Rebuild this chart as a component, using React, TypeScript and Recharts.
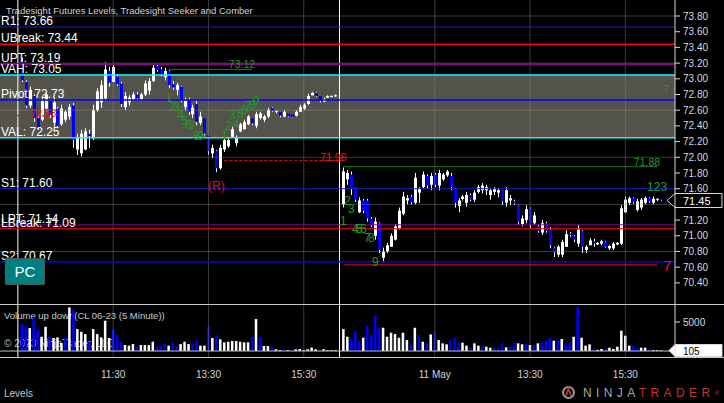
import React from "react";
import {
  Bar,
  ComposedChart,
  ReferenceArea,
  ReferenceDot,
  ReferenceLine,
  XAxis,
  YAxis,
} from "recharts";

const FONT = "'Liberation Sans', Arial, sans-serif";

// CL 06-23, 5 minute bars [open, high, low, close], 10 May 09:35 - 16:10
const day1Bars: [number, number, number, number][] = [
  [73.22, 73.27, 72.96, 72.98], [72.96, 72.98, 72.63, 72.66], [72.66, 72.9, 72.63, 72.86], [72.78, 72.8, 72.45, 72.5],
  [72.5, 72.54, 72.35, 72.38], [72.48, 72.76, 72.46, 72.72], [72.62, 72.83, 72.58, 72.8], [72.72, 72.73, 72.5, 72.54],
  [72.44, 72.76, 72.39, 72.7], [72.62, 72.64, 72.37, 72.4], [72.42, 72.67, 72.4, 72.62], [72.48, 72.6, 72.45, 72.58],
  [72.52, 72.68, 72.48, 72.64], [72.66, 72.69, 72.12, 72.22], [72.1, 72.3, 72.03, 72.25], [72.05, 72.35, 72.01, 72.3],
  [72.1, 72.37, 72.09, 72.33], [72.3, 72.35, 72.12, 72.27], [72.24, 72.67, 72.22, 72.6], [72.6, 72.88, 72.58, 72.84],
  [72.7, 72.98, 72.63, 72.92], [72.75, 73.21, 72.73, 73.12], [73.1, 73.15, 72.9, 72.95], [72.96, 73.2, 72.96, 73.15],
  [73.03, 73.06, 72.91, 72.93], [72.94, 72.96, 72.64, 72.68], [72.64, 72.83, 72.6, 72.78], [72.7, 72.79, 72.66, 72.76],
  [72.74, 72.83, 72.72, 72.8], [72.8, 72.83, 72.73, 72.75], [72.74, 72.82, 72.72, 72.8], [72.8, 72.98, 72.78, 72.94],
  [72.85, 73.01, 72.8, 72.97], [72.97, 73.18, 72.96, 73.14], [73.16, 73.2, 73.09, 73.11], [73.12, 73.15, 73.03, 73.05],
  [73.02, 73.14, 72.98, 73.1], [73.1, 73.11, 72.88, 72.92], [72.93, 72.97, 72.86, 72.89], [72.86, 72.95, 72.79, 72.92],
  [72.9, 72.91, 72.7, 72.72], [72.64, 72.76, 72.6, 72.72], [72.74, 72.76, 72.54, 72.58], [72.55, 72.67, 72.5, 72.63],
  [72.68, 72.73, 72.41, 72.45], [72.44, 72.58, 72.41, 72.52], [72.5, 72.5, 72.28, 72.3], [72.28, 72.28, 72.03, 72.08],
  [72.05, 72.16, 71.99, 72.12], [72.08, 72.09, 71.81, 71.86], [71.86, 72.16, 71.84, 72.12], [72.1, 72.25, 72.07, 72.22],
  [72.14, 72.25, 72.12, 72.22], [72.26, 72.39, 72.25, 72.36], [72.18, 72.28, 72.14, 72.26], [72.33, 72.44, 72.32, 72.42],
  [72.36, 72.48, 72.35, 72.45], [72.42, 72.54, 72.41, 72.52], [72.5, 72.5, 72.41, 72.43], [72.4, 72.58, 72.37, 72.55],
  [72.5, 72.58, 72.48, 72.56], [72.48, 72.54, 72.45, 72.52], [72.52, 72.63, 72.5, 72.6], [72.63, 72.64, 72.58, 72.59],
  [72.58, 72.6, 72.56, 72.59], [72.58, 72.58, 72.51, 72.53], [72.52, 72.6, 72.51, 72.58], [72.56, 72.56, 72.51, 72.52],
  [72.55, 72.55, 72.5, 72.51], [72.53, 72.6, 72.52, 72.58], [72.58, 72.67, 72.58, 72.64], [72.62, 72.69, 72.6, 72.67],
  [72.68, 72.81, 72.67, 72.78], [72.79, 72.83, 72.79, 72.82], [72.82, 72.83, 72.77, 72.78], [72.78, 72.78, 72.7, 72.72],
  [72.71, 72.76, 72.7, 72.74], [72.76, 72.79, 72.76, 72.78], [72.78, 72.79, 72.77, 72.78], [72.78, 72.8, 72.77, 72.79],
];

// 11 May 09:35 - 16:15
const day2Bars: [number, number, number, number][] = [
  [71.4, 71.87, 71.36, 71.82], [71.72, 71.84, 71.65, 71.8], [71.78, 71.82, 71.52, 71.6], [71.62, 71.62, 71.43, 71.46],
  [71.3, 71.49, 71.29, 71.45], [71.45, 71.47, 71.29, 71.32], [71.45, 71.47, 71.18, 71.22], [71.22, 71.24, 71.11, 71.13],
  [71.0, 71.23, 70.95, 71.18], [71.16, 71.17, 70.78, 70.82], [70.72, 70.85, 70.66, 70.8], [70.8, 70.91, 70.78, 70.88],
  [70.86, 71.03, 70.86, 71.0], [70.95, 71.15, 70.94, 71.12], [71.1, 71.36, 71.08, 71.32], [71.28, 71.56, 71.26, 71.5],
  [71.45, 71.52, 71.4, 71.48], [71.5, 71.52, 71.4, 71.43], [71.42, 71.8, 71.4, 71.74], [71.55, 71.62, 71.42, 71.6],
  [71.62, 71.82, 71.6, 71.78], [71.76, 71.78, 71.6, 71.64], [71.65, 71.8, 71.58, 71.76], [71.78, 71.8, 71.62, 71.65],
  [71.64, 71.84, 71.58, 71.8], [71.72, 71.8, 71.7, 71.78], [71.77, 71.84, 71.75, 71.82], [71.76, 71.8, 71.58, 71.62],
  [71.6, 71.6, 71.36, 71.42], [71.38, 71.48, 71.3, 71.45], [71.47, 71.52, 71.45, 71.5], [71.42, 71.56, 71.37, 71.52],
  [71.52, 71.54, 71.44, 71.46], [71.46, 71.58, 71.43, 71.55], [71.56, 71.65, 71.54, 71.62], [71.58, 71.67, 71.54, 71.64],
  [71.58, 71.65, 71.52, 71.62], [71.52, 71.61, 71.46, 71.58], [71.56, 71.62, 71.52, 71.6], [71.55, 71.61, 71.49, 71.58],
  [71.58, 71.58, 71.39, 71.44], [71.42, 71.62, 71.37, 71.58], [71.45, 71.52, 71.39, 71.48], [71.44, 71.46, 71.39, 71.41],
  [71.39, 71.4, 71.14, 71.18], [71.15, 71.26, 71.12, 71.22], [71.2, 71.39, 71.16, 71.34], [71.35, 71.36, 71.1, 71.14],
  [71.16, 71.3, 71.14, 71.26], [71.12, 71.14, 71.04, 71.06], [71.04, 71.2, 71.01, 71.16], [71.16, 71.18, 71.04, 71.06],
  [71.08, 71.11, 70.84, 70.88], [70.85, 70.86, 70.73, 70.79], [70.76, 70.88, 70.73, 70.86], [70.76, 70.95, 70.73, 70.92],
  [70.86, 71.07, 70.86, 71.02], [71.03, 71.05, 70.99, 71.01], [71.0, 71.01, 70.92, 70.95], [70.9, 71.14, 70.86, 71.08],
  [71.06, 71.07, 70.78, 70.86], [70.82, 70.88, 70.78, 70.86], [70.88, 70.97, 70.88, 70.94], [70.93, 70.96, 70.86, 70.9],
  [70.89, 70.92, 70.88, 70.91], [70.9, 70.95, 70.88, 70.93], [70.92, 70.93, 70.85, 70.86], [70.84, 70.88, 70.82, 70.87],
  [70.84, 70.92, 70.82, 70.9], [70.89, 70.92, 70.88, 70.91], [70.9, 71.39, 70.88, 71.35], [71.3, 71.5, 71.29, 71.46],
  [71.42, 71.5, 71.39, 71.48], [71.48, 71.49, 71.41, 71.43], [71.33, 71.47, 71.31, 71.44], [71.36, 71.48, 71.33, 71.46],
  [71.42, 71.5, 71.4, 71.48], [71.48, 71.49, 71.42, 71.44], [71.42, 71.5, 71.4, 71.47], [71.46, 71.48, 71.44, 71.47],
  [71.47, 71.47, 71.44, 71.45],
];

const day1Volume = [
  4640, 4180, 3950, 5670, 3610, 2460, 4180, 2460, 2240, 2350, 1380, 2240, 7510, 7050, 3780, 3320,
  2920, 1600, 3780, 2920, 2350, 5220, 2240, 3780, 2750, 1600, 1030, 920, 1200, 740, 1030, 1030,
  1030, 1600, 920, 920, 1200, 920, 1490, 920, 1200, 1600, 1200, 1200, 1890, 920, 920, 4180,
  2240, 2750, 2010, 1490, 1600, 1720, 1720, 1600, 1490, 1490, 2460, 5500, 2290, 860, 860, 630,
  300, 150, 150, 150, 150, 300, 350, 150, 300, 600, 300, 150, 300, 150, 150, 150,
];
const day2Volume = [
  3780, 2460, 2060, 3440, 1770, 2290, 4350, 2750, 6070, 4010, 4010, 2460, 3150, 2920, 2290, 3150,
  1890, 1320, 4010, 2750, 1600, 1430, 2860, 3440, 1890, 1320, 1150, 1890, 2290, 1430, 1430, 920,
  570, 1320, 920, 920, 740, 570, 570, 570, 1320, 630, 740, 1430, 1320, 1150, 1320, 1030,
  1030, 1320, 1430, 1770, 2290, 1770, 1770, 2060, 1150, 1430, 2460, 7510, 2290, 920, 1150, 300,
  200, 350, 350, 570, 350, 740, 3500, 2640, 920, 920, 570, 570, 570, 300, 150, 150, 105,
];
// B = down volume (blue), W = up volume (white)
const day1VolumeSide = "BBWBBWWBWWWBWBWWWBWWWWWBBBWWWBWWWWBBBWBBWWWBBWWBWBWWWWWWWWBWBWWBWWBWBWWWWWWBWWW";
const day2VolumeSide = "WWBBBWBBBBWWWWWWWBWBWBWBWWWBBBWWBWWBWWBBBWBBWWBWBWBBBWBWBBWBWWWBWWBWWWWWWBBWWBWWW";

const levelNames = ["R1", "UBreak", "UPT", "VAH", "Pivot", "VAL", "S1", "LPT", "LBreak", "S2"];
const levelValues = [73.66, 73.44, 73.19, 73.05, 72.73, 72.25, 71.6, 71.14, 71.09, 70.67];

const priceTicks = [73.8, 73.6, 73.4, 73.2, 73.0, 72.8, 72.6, 72.4, 72.2, 72.0, 71.8, 71.6, 71.2, 71.0, 70.8, 70.6, 70.4];
const priceGrid = [73.8, 73.2, 72.6, 72.0, 71.4, 70.8];
const volumeTicks = [5000];

const timeTickDays = [1, 1, 1, 2, 2, 2];
const timeTickTimes = ["11:30", "13:30", "15:30", "11:30", "13:30", "15:30"];
const timeTickLabels = ["11:30", "13:30", "15:30", "11 May", "13:30", "15:30"];

// Seeker / Comber counts: [day, bar, price, text]
const countMarks: [number, number, number, string][] = [
  [1, 38, 72.76, "1"], [1, 39, 72.65, "2"], [1, 40, 72.64, "3"], [1, 41, 72.545, "4"], [1, 42, 72.46, "5"],
  [1, 43, 72.41, "6"], [1, 44, 72.4, "7"], [1, 45, 72.265, "8"], [1, 46, 72.265, "9"],
  [1, 52, 72.29, "1"], [1, 53, 72.4, "2"], [1, 54, 72.54, "3"], [1, 55, 72.42, "4"], [1, 56, 72.55, "5"],
  [1, 57, 72.6, "6"], [1, 58, 72.65, "7"], [1, 59, 72.67, "8"], [1, 60, 72.72, "9"],
  [2, 1, 71.19, "1"], [2, 2, 71.44, "2"], [2, 3, 71.34, "3"], [2, 4, 71.09, "4"], [2, 5, 71.09, "5"],
  [2, 6, 71.09, "6"], [2, 7, 70.97, "7"], [2, 8, 70.97, "8"], [2, 9, 70.66, "9"],
  [2, 80, 71.62, "123"],
];
// reversal marker [day, bar, price]
const reversalMark: [number, number, number] = [1, 50, 71.81];

const barTime = (j: number) => {
  const m = 9 * 60 + 30 + 5 * j;
  return `${Math.floor(m / 60)}:${String(m % 60).padStart(2, "0")}`;
};
const barKey = (day: number, j: number) => `${day} ${barTime(j)}`;

// Comber stop / target lines
const targetLines = [
  { kind: "stop", from: "pad0", to: barKey(1, 9), price: 72.53, text: "72.53", end: false },
  { kind: "stop", from: barKey(1, 52), to: barKey(2, 1), price: 71.96, text: "71.96", end: false },
  { kind: "target", from: barKey(1, 38), to: barKey(1, 59), price: 73.12, text: "73.12", end: false },
  { kind: "target", from: barKey(2, 1), to: barKey(2, 80), price: 72.89, text: "7", end: true },
  { kind: "target", from: barKey(2, 1), to: barKey(2, 80), price: 71.88, text: "71.88", end: false },
  { kind: "stopLine", from: barKey(2, 1), to: barKey(2, 80), price: 70.63, text: "7", end: true },
];

const BLUE = "#0000ff";
const GRID = "rgba(140,140,140,0.42)";
const AXIS = "#d8d8d8";
const TICK_TEXT = "#d4d8e0";
const GREEN = "#239a23";
const RED = "#ff1010";

const levelStyle: Record<string, { color: string; width: number }> = {
  R1: { color: "#1c1cc4", width: 1 },
  UBreak: { color: "#ff0000", width: 1.5 },
  UPT: { color: "#8b008b", width: 2 },
  VAH: { color: "#00ffff", width: 1.5 },
  Pivot: { color: "#0000ff", width: 1.5 },
  VAL: { color: "#00ffff", width: 1.5 },
  S1: { color: "#1c1cc4", width: 1 },
  LPT: { color: "#8b008b", width: 1 },
  LBreak: { color: "#ff0000", width: 1 },
  S2: { color: "#0000ff", width: 1.5 },
};

const lineStyle: Record<string, { color: string; dash?: string; text: string; size: number }> = {
  stop: { color: "#e01010", dash: "3 2", text: RED, size: 10.5 },
  target: { color: "#1a7d1a", text: GREEN, size: 10.5 },
  stopLine: { color: "#e01010", text: RED, size: 14 },
};

type Row = {
  t: string;
  o?: number;
  h?: number;
  l?: number;
  c?: number;
  range?: [number, number];
  vol?: number;
  down?: boolean;
};

const rows: Row[] = [];
["pad0", "pad1", "pad2", "pad3", "session1"].forEach((t) => rows.push({ t }));
day1Bars.forEach(([o, h, l, c], i) =>
  rows.push({ t: barKey(1, i + 1), o, h, l, c, range: [l, h], vol: day1Volume[i], down: day1VolumeSide[i] === "B" })
);
rows.push({ t: "session2" });
day2Bars.forEach(([o, h, l, c], i) =>
  rows.push({ t: barKey(2, i + 1), o, h, l, c, range: [l, h], vol: day2Volume[i], down: day2VolumeSide[i] === "B" })
);
["end0", "end1", "end2"].forEach((t) => rows.push({ t }));

const tickKeys = timeTickDays.map((d, i) => `${d} ${timeTickTimes[i]}`);
const tickLabel: Record<string, string> = {};
tickKeys.forEach((k, i) => (tickLabel[k] = timeTickLabels[i]));

const lastBar = day2Bars[day2Bars.length - 1];
const lastClose = lastBar[3];
const lastVolume = day2Volume[day2Volume.length - 1];
const level = (name: string) => levelValues[levelNames.indexOf(name)];

const Candle = (props: any) => {
  const { x, y, width, height, payload } = props;
  if (!payload || payload.h == null || x == null) return null;
  const { o, h, l, c } = payload;
  const top = Math.min(y, y + height);
  const bot = Math.max(y, y + height);
  const span = h - l;
  const yOf = (v: number) => (span > 0 ? top + ((h - v) / span) * (bot - top) : top);
  const cx = Math.round(x + width / 2);
  const up = c >= o;
  const bTop = yOf(Math.max(o, c));
  const bBot = yOf(Math.min(o, c));
  return (
    <g>
      <line x1={cx + 0.5} x2={cx + 0.5} y1={top} y2={Math.max(bot, top + 1)} stroke="#ffffff" strokeWidth={1} />
      <rect x={cx - 1} y={bTop} width={3} height={Math.max(bBot - bTop, 1)} fill={up ? "#ffffff" : BLUE} />
    </g>
  );
};

const VolumeBar = (props: any) => {
  const { x, y, width, height, payload } = props;
  if (!payload || payload.vol == null || !height) return null;
  const cx = x + width / 2;
  return <rect x={cx - 1.25} y={y} width={2.5} height={height} fill={payload.down ? BLUE : "#ffffff"} />;
};

const LevelLabel = ({ viewBox, text }: any) =>
  viewBox ? (
    <text x={viewBox.x + 1} y={viewBox.y - 2} fill="#ffffff" fontSize={12} fontFamily={FONT}>
      {text}
    </text>
  ) : null;

const LineLabel = ({ viewBox, text, color, size, atEnd, above }: any) => {
  if (!viewBox) return null;
  const xEnd = viewBox.x + viewBox.width;
  return (
    <text
      x={atEnd ? xEnd + 6 : xEnd + 3}
      y={atEnd ? viewBox.y + 6 : above ? viewBox.y - 1 : viewBox.y + 1}
      fill={color}
      fontSize={size}
      fontFamily={FONT}
      textAnchor={atEnd ? "start" : "end"}
    >
      {text}
    </text>
  );
};

const CountLabel = ({ viewBox, text, color, dy }: any) =>
  viewBox ? (
    <text
      x={viewBox.x + viewBox.width / 2}
      y={viewBox.y + viewBox.height / 2 + dy}
      fill={color}
      fontSize={12}
      fontFamily={FONT}
      textAnchor="middle"
    >
      {text}
    </text>
  ) : null;

const PriceTag = ({ viewBox, text }: any) => {
  if (!viewBox) return null;
  const x = viewBox.x + viewBox.width;
  const y = Math.round(viewBox.y) + 0.5;
  return (
    <g>
      <polygon
        points={`${x - 8},${y} ${x},${y - 7} ${x + 47},${y - 7} ${x + 47},${y + 7} ${x},${y + 7}`}
        fill="#000000"
        stroke="#d8d8d8"
        strokeWidth={1}
      />
      <text x={x + 8} y={y + 4} fill="#ffffff" fontSize={11} fontFamily={FONT}>
        {text}
      </text>
    </g>
  );
};

const VolumeTag = ({ viewBox, text }: any) => {
  if (!viewBox) return null;
  const x = viewBox.x + viewBox.width;
  const y = Math.round(viewBox.y) + 0.5;
  return (
    <g>
      <polygon
        points={`${x - 6},${y} ${x},${y - 6} ${x + 47},${y - 6} ${x + 47},${y + 6} ${x},${y + 6}`}
        fill="#ffffff"
        stroke="#d8d8d8"
      />
      <text x={x + 8} y={y + 4} fill="#000000" fontSize={10} fontFamily={FONT}>
        {text}
      </text>
    </g>
  );
};

const textStyle = (left: number, top: number, size: number, color: string): React.CSSProperties => ({
  position: "absolute",
  left,
  top,
  fontSize: size,
  lineHeight: `${size}px`,
  color,
  whiteSpace: "nowrap",
  fontFamily: FONT,
});

export default function App() {
  return (
    <div
      style={{
        position: "absolute",
        left: 0,
        top: 0,
        width: 724,
        height: 403,
        background: "#000000",
        overflow: "hidden",
        fontFamily: FONT,
      }}
    >
      <div style={textStyle(6, 6, 9.5, "#d4d4d4")}>Tradesight Futures Levels, Tradesight Seeker and Comber</div>
      <div style={textStyle(4, 311, 9.5, "#c8c8c8")}>Volume up down(CL 06-23 (5 Minute))</div>
      <div style={textStyle(4, 339, 10, "#b8b8b8")}>© 2023 NinjaTrader, LLC</div>
      <div style={textStyle(4, 389, 10, "#c8c8c8")}>Levels</div>

      <div style={{ position: "absolute", left: 0, top: 0 }}>
        <ComposedChart width={724} height={304} data={rows} margin={{ top: 0, right: 0, bottom: 0, left: 0 }}>
          <XAxis dataKey="t" hide />
          <YAxis
            orientation="right"
            type="number"
            domain={[70.131, 74.004]}
            allowDataOverflow
            ticks={priceTicks}
            interval={0}
            width={49}
            tickSize={5}
            tickMargin={3}
            axisLine={{ stroke: AXIS }}
            tickLine={{ stroke: AXIS }}
            tick={{ fill: TICK_TEXT, fontSize: 10, fontFamily: FONT }}
            tickFormatter={(v: number) => v.toFixed(2)}
          />
          <ReferenceArea y1={level("VAL")} y2={level("VAH")} fill="#54534b" fillOpacity={1} stroke="none" />
          {priceGrid.map((v) => (
            <ReferenceLine key={`g${v}`} y={v} stroke={GRID} />
          ))}
          {tickKeys.map((k) => (
            <ReferenceLine key={`v${k}`} x={k} stroke={GRID} />
          ))}
          <ReferenceLine x="session1" stroke="#ffffff" />
          <ReferenceLine x="session2" stroke="#ffffff" />
          {levelNames.map((name, i) => (
            <ReferenceLine
              key={name}
              y={levelValues[i]}
              stroke={levelStyle[name].color}
              strokeWidth={levelStyle[name].width}
              label={<LevelLabel text={`${name}: ${levelValues[i].toFixed(2)}`} />}
            />
          ))}
          {targetLines.map((s, i) => (
            <ReferenceLine
              key={`s${i}`}
              segment={[
                { x: s.from, y: s.price },
                { x: s.to, y: s.price },
              ]}
              stroke={lineStyle[s.kind].color}
              strokeDasharray={lineStyle[s.kind].dash}
              label={
                <LineLabel
                  text={s.text}
                  color={lineStyle[s.kind].text}
                  size={lineStyle[s.kind].size}
                  atEnd={s.end}
                  above={s.kind === "target"}
                />
              }
            />
          ))}
          <Bar dataKey="range" isAnimationActive={false} shape={(p: any) => <Candle {...p} />} />
          {countMarks.map(([d, j, p, text], i) => (
            <ReferenceDot
              key={`c${i}`}
              x={barKey(d, j)}
              y={p}
              r={0}
              fill="none"
              stroke="none"
              label={<CountLabel text={text} color={GREEN} dy={4} />}
            />
          ))}
          <ReferenceDot
            x={barKey(reversalMark[0], reversalMark[1])}
            y={reversalMark[2]}
            r={0}
            fill="none"
            stroke="none"
            label={<CountLabel text="(R)" color="#e01010" dy={18} />}
          />
          <ReferenceLine y={lastClose} stroke="none" label={<PriceTag text={lastClose.toFixed(2)} />} />
        </ComposedChart>
      </div>

      <div style={{ position: "absolute", left: 0, top: 304 }}>
        <ComposedChart width={724} height={99} data={rows} margin={{ top: 0, right: 0, bottom: 16, left: 0 }}>
          <XAxis
            dataKey="t"
            ticks={tickKeys}
            interval={0}
            tickFormatter={(k: string) => tickLabel[k] ?? ""}
            axisLine={false}
            tickLine={false}
            tickSize={0}
            tickMargin={14}
            height={30}
            tick={{ fill: "#d4d4d4", fontSize: 10, fontFamily: FONT }}
          />
          <YAxis
            orientation="right"
            type="number"
            domain={[-1030, 8100]}
            allowDataOverflow
            ticks={volumeTicks}
            interval={0}
            width={49}
            tickSize={5}
            tickMargin={3}
            axisLine={{ stroke: AXIS }}
            tickLine={{ stroke: AXIS }}
            tick={{ fill: TICK_TEXT, fontSize: 10, fontFamily: FONT }}
          />
          {tickKeys.map((k) => (
            <ReferenceLine key={`vv${k}`} x={k} stroke={GRID} />
          ))}
          <ReferenceLine x="session1" stroke="#ffffff" />
          <ReferenceLine x="session2" stroke="#ffffff" />
          <ReferenceLine y={0} stroke="#bdbdbd" />
          <Bar dataKey="vol" isAnimationActive={false} shape={(p: any) => <VolumeBar {...p} />} />
          <ReferenceLine y={lastVolume} stroke="none" label={<VolumeTag text={String(lastVolume)} />} />
        </ComposedChart>
      </div>

      <div style={{ position: "absolute", left: 0, top: 304, width: 724, height: 1, background: "#c8c8c8" }} />
      <div style={{ position: "absolute", left: 0, top: 357, width: 724, height: 1, background: "#c8c8c8" }} />

      <div
        style={{
          position: "absolute",
          left: 5,
          top: 258,
          width: 38,
          height: 25,
          background: "#008080",
          border: "1px solid #505050",
          color: "#ffffff",
          fontSize: 15,
          lineHeight: "25px",
          textAlign: "center",
          fontFamily: FONT,
        }}
      >
        PC
      </div>

      <svg style={{ position: "absolute", left: 560, top: 385 }} width={18} height={15}>
        <circle cx={8.5} cy={7.5} r={5.5} fill="none" stroke="#9a9a9a" strokeWidth={2} />
        <path d="M6 11 L8.5 3.5 L11 11" stroke="#b8332a" strokeWidth={1.8} fill="none" />
      </svg>
      <div
        style={{
          position: "absolute",
          left: 583,
          top: 387,
          fontSize: 12,
          lineHeight: "12px",
          letterSpacing: 4.4,
          whiteSpace: "nowrap",
          fontFamily: FONT,
        }}
      >
        <span style={{ color: "#a8a8a8" }}>NINJA</span>
        <span style={{ color: "#c0392b" }}>TRADER</span>
        <span style={{ color: "#c0392b", fontSize: 6, verticalAlign: "top", letterSpacing: 0 }}>®</span>
      </div>
    </div>
  );
}
